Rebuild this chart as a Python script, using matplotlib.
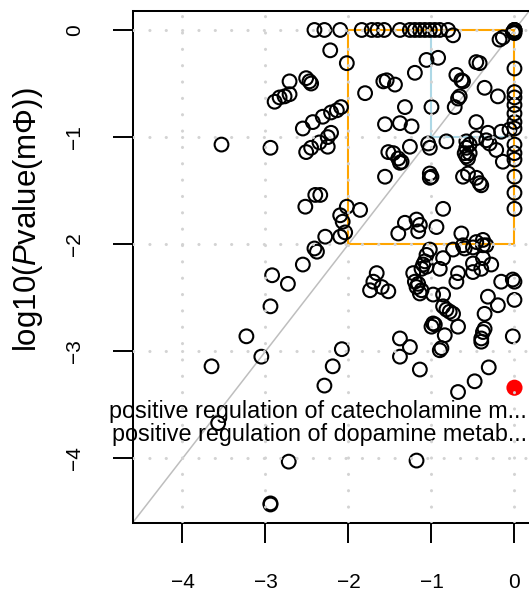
import matplotlib
matplotlib.use("Agg")
import matplotlib.pyplot as plt

plt.rcParams['font.family'] = ['Liberation Sans', 'DejaVu Sans']
plt.rcParams['mathtext.fontset'] = 'custom'
plt.rcParams['mathtext.it'] = 'Liberation Sans:italic'
plt.rcParams['mathtext.rm'] = 'Liberation Sans'

# x = log10(Pvalue) of the reference set, y = log10(Pvalue(mPhi))
x_vals = [
    # top row, y = 0
    -2.41, -2.29, -2.10, -1.84, -1.72, -1.65, -1.57, -1.38, -1.26, -1.20,
    -1.14, -1.08, -1.02, -0.96, -0.90, -0.80, -0.74,
    0.0, 0.0, 0.0, 0.0, -0.02, 0.0, -0.18, -0.14, 0.0,
    # upper part of box
    -2.22, -2.02, -1.06, -0.92, -1.20, -0.46, -0.42, -0.70, -0.64, -0.62,
    -0.36, -0.20, 0.0, 0.0, 0.0, 0.0, 0.0, 0.0, -0.68, -0.72, -0.66,
    -1.00, -1.32, -1.58, -1.54, -1.44, -1.80, -1.56, -1.38, -1.24, -0.46,
    -0.16, -0.32, -0.06,
    # left of box, upper
    -2.71, -2.51, -2.47, -2.45, -2.89, -2.83, -2.77, -2.71, -3.53, -2.94,
    -2.55, -2.43, -2.31, -2.21, -2.14, -2.09, -2.51, -2.45, -2.35, -2.25,
    -2.21, -2.25, -2.52, -2.40, -2.34, -2.10, -2.02, -1.86, -2.07, -2.04,
    -2.10, -2.28, -2.41, -2.38, -2.55,
    # left, lower
    -2.92, -2.73, -2.94, -3.23, -3.05, -3.65, -2.08, -2.19, -2.29, -3.57,
    -2.72, -1.18, -2.94, -2.94,
    # middle of box
    -1.52, -1.46, -1.40, -1.36, -1.38, -1.26, -1.02, -1.04, -0.82, -1.56,
    -1.02, -1.00, -1.02, -0.58, -0.54, -0.58, -0.60, -0.58, -0.54, -0.56,
    -0.46, -0.34, -0.30, -0.22, -0.14, 0.0, 0.0, 0.0, 0.0, 0.0, 0.0,
    -0.62, -0.46, -0.40, -0.42, -0.56, -0.86, -1.32, -1.18, -1.14, -1.16,
    -1.40, -0.94, -0.64, -0.46, -0.38,
    # around y = -2
    -1.02, -0.74, -0.62, -0.60, -0.38, -0.34, -0.50,
    # below box
    -1.06, -1.08, -1.10, -1.06, -1.12, -0.86, -0.90, -1.22, -1.20, -1.16,
    -1.18, -1.12, -1.14, -0.98, -0.86, -0.86, -0.82, -0.78, -0.74, -0.68,
    -0.70, -0.50, -0.50, -0.40, -0.38, -0.28, -0.16, -0.02, 0.0, -0.32,
    -0.20, 0.0, -0.36, -0.36, -0.38, -0.40, -0.40, -0.02, -1.66, -1.70,
    -1.74, -1.60, -1.52, -0.98, -1.00, -0.96, -0.84, -0.88, -0.68, -1.38,
    -1.26, -1.38, -1.14, -0.90, -0.68, -0.48, -0.31,
]
y_vals = [
    0.0, 0.0, 0.0, 0.0, 0.0, 0.0, 0.0, 0.0, 0.0, 0.0,
    0.0, 0.0, 0.0, 0.0, 0.0, 0.0, -0.05,
    0.0, 0.0, 0.0, -0.02, -0.02, -0.03, -0.09, -0.07, -0.36,
    -0.19, -0.31, -0.28, -0.26, -0.40, -0.30, -0.31, -0.42, -0.47, -0.48,
    -0.54, -0.62, -0.58, -0.63, -0.70, -0.78, -0.86, -0.92, -0.64, -0.72, -0.62,
    -0.72, -0.72, -0.48, -0.47, -0.51, -0.59, -0.88, -0.87, -0.90, -0.86,
    -0.95, -0.96, -0.93,
    -0.48, -0.45, -0.48, -0.50, -0.67, -0.63, -0.62, -0.60, -1.07, -1.10,
    -0.92, -0.86, -0.81, -0.77, -0.75, -0.72, -1.14, -1.10, -1.05, -1.00,
    -0.96, -1.09, -1.65, -1.54, -1.54, -1.73, -1.65, -1.68, -1.79, -1.89,
    -1.93, -1.93, -2.04, -2.07, -2.19,
    -2.29, -2.37, -2.58, -2.86, -3.05, -3.14, -2.98, -3.14, -3.32, -3.67,
    -4.03, -4.02, -4.42, -4.43,
    -1.14, -1.15, -1.20, -1.23, -1.24, -1.09, -1.10, -1.06, -1.04, -1.37,
    -1.34, -1.37, -1.38, -1.04, -1.07, -1.10, -1.15, -1.18, -1.15, -1.20,
    -1.01, -1.03, -1.06, -1.12, -1.23, -1.07, -1.15, -1.21, -1.37, -1.52, -1.67,
    -1.37, -1.38, -1.45, -1.43, -1.34, -1.67, -1.80, -1.77, -1.82, -1.88,
    -1.90, -1.84, -1.90, -1.98, -1.96,
    -2.05, -2.05, -2.01, -2.04, -2.01, -2.01, -2.03,
    -2.10, -2.16, -2.19, -2.21, -2.23, -2.13, -2.23, -2.27, -2.35, -2.37,
    -2.40, -2.43, -2.46, -2.47, -2.47, -2.58, -2.61, -2.63, -2.65, -2.27,
    -2.35, -2.18, -2.26, -2.23, -2.13, -2.19, -2.35, -2.33, -2.35, -2.49,
    -2.57, -2.52, -2.65, -2.79, -2.82, -2.88, -2.91, -2.86, -2.27, -2.35,
    -2.43, -2.40, -2.44, -2.74, -2.77, -2.75, -2.85, -2.97, -2.77, -2.88,
    -2.96, -3.05, -3.17, -2.99, -3.38, -3.28, -3.15,
]

hit_x = [0.0]
hit_y = [-3.34]
hit_labels = ["positive regulation of catecholamine m...",
              "positive regulation of dopamine metab..."]
label_y = [-3.56, -3.78]

ticks = [-4, -3, -2, -1, 0]
xlims = (-4.6, 0.21)
ylims = (-4.6, 0.177)

fig = plt.figure(figsize=(5.29, 5.93), dpi=100)
# right edge of the box falls just outside the picture, as in the source
ax = fig.add_axes([132.7 / 529, 1 - 522.7 / 593, 399.2 / 529, 511.7 / 593])

ax.set_xlim(xlims)
ax.set_ylim(ylims)

# diagonal
ax.plot(ylims, ylims, color='#bebebe', lw=1.1, zorder=1)

# boxes
ax.plot([-1, -1, 0], [0, -1, -1], color='#add8e6', lw=1.5, zorder=1.5)
ax.plot([-2, 0, 0, -2, -2], [-2, -2, 0, 0, -2], color='orange', lw=1.5, zorder=1.6)

ax.scatter(x_vals, y_vals, s=98, facecolors='none', edgecolors='black',
           linewidths=1.5, zorder=3)
ax.scatter(hit_x, hit_y, s=135, color='red', edgecolors='none', zorder=3)

for lab, ly in zip(hit_labels, label_y):
    ax.text(0.148, ly, lab, ha='right', va='center', fontsize=16.8, zorder=4)

# dotted grid drawn on top, like R's grid()
for t in ticks:
    ax.axvline(t, color='#d3d3d3', lw=2.2, linestyle=(0, (0.05, 5.3)),
               dash_capstyle='round', zorder=5)
    ax.axhline(t, color='#d3d3d3', lw=2.2, linestyle=(0, (0.05, 5.3)),
               dash_capstyle='round', zorder=5)

ax.set_xticks(ticks)
ax.set_yticks(ticks)
ax.set_xticklabels([str(t).replace('-', '\u2212') for t in ticks])
ax.set_yticklabels([str(t).replace('-', '\u2212') for t in ticks],
                   rotation=90, va='center')
ax.tick_params(axis='both', length=14.4, width=1.4, labelsize=15, direction='out')
ax.tick_params(axis='x', pad=22)
ax.tick_params(axis='y', pad=20.5)
for sp in ax.spines.values():
    sp.set_linewidth(1.45)

fig.text(28 / 529, 1 - 220 / 593, r'log10($\mathit{P}$value(m' + '\u03a6' + '))',
         rotation=90, ha='center', va='center', fontsize=22.5)

fig.savefig('out.png', dpi=100)
